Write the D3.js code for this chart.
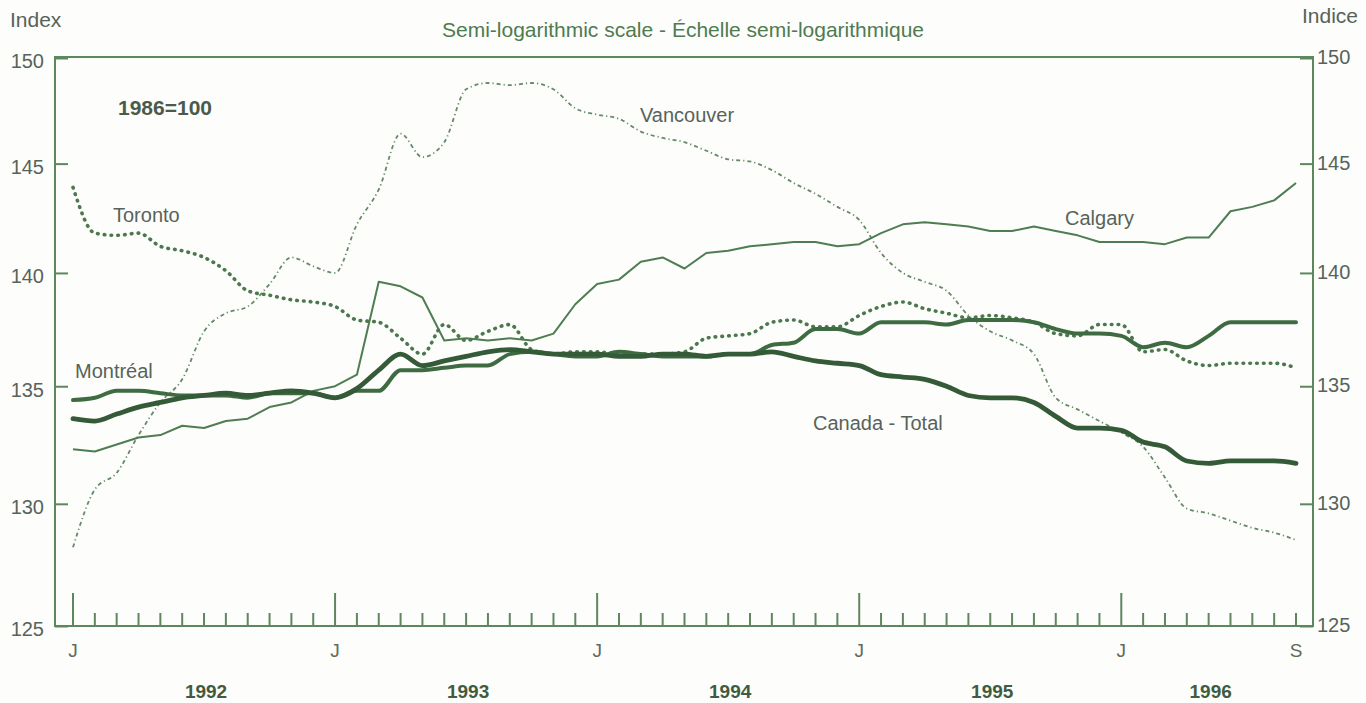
<!DOCTYPE html>
<html>
<head>
<meta charset="utf-8">
<script src="https://cdn.jsdelivr.net/npm/d3@7"></script>
<style>
  html, body { margin: 0; padding: 0; background: #fdfdfc; }
  svg { display: block; font-family: "Liberation Sans", Arial, Helvetica, sans-serif; }
</style>
</head>
<body>
<svg id="chart" width="1366" height="703"></svg>
<script>
// ---------------- DATA ----------------
// Monthly, January 1992 to September 1996 (57 months)
const monthLetters = ["J","F","M","A","M","J","J","A","S","O","N","D"];
const nMonths = 57;
const years = ["1992", "1993", "1994", "1995", "1996"];
const yTicks = [125, 130, 135, 140, 145, 150];

const canada = [133.6,133.5,133.8,134.1,134.3,134.5,134.6,134.7,134.6,134.7,134.8,134.7,
                134.5,134.9,135.7,136.4,135.9,136.1,136.3,136.5,136.6,136.5,136.4,136.4,
                136.4,136.3,136.3,136.4,136.4,136.3,136.4,136.4,136.5,136.3,136.1,136.0,
                135.9,135.5,135.4,135.3,135.0,134.6,134.5,134.5,134.3,133.7,133.2,133.2,
                133.1,132.6,132.4,131.8,131.7,131.8,131.8,131.8,131.7];
const montreal = [134.4,134.5,134.8,134.8,134.7,134.6,134.6,134.6,134.5,134.7,134.7,134.7,
                  134.5,134.8,134.8,135.7,135.7,135.8,135.9,135.9,136.4,136.5,136.4,136.3,
                  136.3,136.5,136.4,136.3,136.3,136.3,136.4,136.4,136.8,136.9,137.5,137.5,
                  137.3,137.8,137.8,137.8,137.7,137.9,137.9,137.9,137.8,137.5,137.3,137.3,
                  137.2,136.7,136.9,136.7,137.2,137.8,137.8,137.8,137.8];
const toronto = [143.9,141.8,141.7,141.8,141.2,141.0,140.7,140.1,139.2,139.0,138.8,138.7,
                 138.5,137.9,137.8,137.1,136.4,137.7,137.0,137.4,137.7,136.6,136.4,136.5,
                 136.5,136.4,136.4,136.4,136.5,137.1,137.2,137.3,137.8,137.9,137.6,137.6,
                 138.1,138.5,138.7,138.4,138.2,138.0,138.1,138.0,137.8,137.3,137.2,137.7,
                 137.7,136.5,136.6,136.1,135.9,136.0,136.0,136.0,135.8];
const vancouver = [128.2,130.6,131.3,132.9,134.3,135.3,137.4,138.2,138.5,139.5,140.7,140.3,
                   140.0,142.2,143.8,146.4,145.3,146.0,148.5,148.8,148.7,148.8,148.5,147.6,
                   147.3,147.1,146.5,146.2,146.0,145.6,145.2,145.1,144.7,144.1,143.6,143.0,
                   142.4,140.9,140.0,139.6,139.2,138.1,137.4,137.0,136.4,134.5,134.0,133.5,
                   133.0,132.4,131.1,129.8,129.6,129.3,129.0,128.8,128.5];
const calgary = [132.3,132.2,132.5,132.8,132.9,133.3,133.2,133.5,133.6,134.1,134.3,134.8,
                 135.0,135.5,139.6,139.4,138.9,137.0,137.1,137.0,137.1,137.0,137.3,138.6,
                 139.5,139.7,140.5,140.7,140.2,140.9,141.0,141.2,141.3,141.4,141.4,141.2,
                 141.3,141.8,142.2,142.3,142.2,142.1,141.9,141.9,142.1,141.9,141.7,141.4,
                 141.4,141.4,141.3,141.6,141.6,142.8,143.0,143.3,144.1];

// ---------------- LAYOUT ----------------
const svg = d3.select("#chart");
const frame = { left: 55, right: 1313, top: 57, bottom: 626 };
const x = d3.scaleLinear().domain([0, nMonths - 1]).range([73, 1296]);
const y = d3.scaleLog().domain([125, 150]).range([626, 58]);

const frameColor = "#5d875d";
const textGray = "#57635a";

svg.append("rect").attr("width", 1366).attr("height", 703).attr("fill", "#fdfdfc");

// frame
svg.append("rect")
  .attr("x", frame.left).attr("y", frame.top)
  .attr("width", frame.right - frame.left).attr("height", frame.bottom - frame.top)
  .attr("fill", "none").attr("stroke", frameColor).attr("stroke-width", 2);

// left axis
const leftAxis = d3.axisRight(y).tickValues(yTicks).tickSize(13).tickFormat("");
const gl = svg.append("g").attr("transform", `translate(${frame.left},0)`).call(leftAxis);
gl.select(".domain").remove();
gl.selectAll(".tick line").attr("stroke", frameColor).attr("stroke-width", 2);
svg.append("g").selectAll("text").data(yTicks).join("text")
  .attr("x", 44).attr("y", d => y(d)).attr("dy", "0.52em")
  .attr("text-anchor", "end").attr("font-size", 20).attr("fill", textGray)
  .text(d => d);

// right axis
const rightAxis = d3.axisLeft(y).tickValues(yTicks).tickSize(13).tickFormat("");
const gr = svg.append("g").attr("transform", `translate(${frame.right},0)`).call(rightAxis);
gr.select(".domain").remove();
gr.selectAll(".tick line").attr("stroke", frameColor).attr("stroke-width", 2);
svg.append("g").selectAll("text").data(yTicks).join("text")
  .attr("x", 1317).attr("y", d => y(d)).attr("dy", "0.3em")
  .attr("text-anchor", "start").attr("font-size", 20).attr("fill", textGray)
  .text(d => d);

// bottom axis: monthly ticks
const months = d3.range(nMonths);
const gx = svg.append("g");
gx.selectAll("line").data(months).join("line")
  .attr("x1", d => x(d)).attr("x2", d => x(d))
  .attr("y1", frame.bottom)
  .attr("y2", d => (d % 12 === 0) ? frame.bottom - 33 : frame.bottom - 13)
  .attr("stroke", frameColor).attr("stroke-width", 2);
gx.selectAll("text.m").data(months.filter(d => d % 12 === 0 || d === nMonths - 1)).join("text")
  .attr("class", "m")
  .attr("x", d => x(d)).attr("y", 657)
  .attr("text-anchor", "middle").attr("font-size", 19).attr("fill", "#5e6b5e")
  .text(d => monthLetters[d % 12]);
gx.selectAll("text.yr").data(years).join("text")
  .attr("class", "yr")
  .attr("x", (d, i) => {
    const s = i * 12, e = Math.min(i * 12 + 12, nMonths - 1);
    return (x(s) + x(e)) / 2 + 2;
  })
  .attr("y", 698)
  .attr("text-anchor", "middle").attr("font-size", 19).attr("font-weight", "bold")
  .attr("fill", "#3f5c40")
  .text(d => d);

// ---------------- SERIES ----------------
const lineSmooth = d3.line().x((d, i) => x(i)).y(d => y(d)).curve(d3.curveMonotoneX);
const lineStraight = d3.line().x((d, i) => x(i)).y(d => y(d));

const series = [
  { data: vancouver, gen: lineSmooth, color: "#668a68", width: 1.8, dash: "4,3,1.2,3", cap: "butt" },
  { data: calgary, gen: lineStraight, color: "#4f7d52", width: 2, dash: null, cap: "butt" },
  { data: toronto, gen: lineSmooth, color: "#4b784d", width: 3.6, dash: "0.6,6.2", cap: "round" },
  { data: montreal, gen: lineSmooth, color: "#3f6b42", width: 4, dash: null, cap: "round" },
  { data: canada, gen: lineSmooth, color: "#355a38", width: 4.8, dash: null, cap: "round" }
];
svg.append("g").selectAll("path").data(series).join("path")
  .attr("d", d => d.gen(d.data))
  .attr("fill", "none")
  .attr("stroke", d => d.color)
  .attr("stroke-width", d => d.width)
  .attr("stroke-dasharray", d => d.dash)
  .attr("stroke-linecap", d => d.cap)
  .attr("stroke-linejoin", "round");

// ---------------- TEXT ----------------
function label(txt, xx, yy, opts = {}) {
  svg.append("text").attr("x", xx).attr("y", yy)
    .attr("font-size", opts.size || 20)
    .attr("font-weight", opts.bold ? "bold" : "normal")
    .attr("fill", opts.color || textGray)
    .attr("text-anchor", opts.anchor || "start")
    .text(txt);
}
label("Index", 10, 27, { size: 21 });
label("Indice", 1302, 23, { size: 21 });
label("Semi-logarithmic scale - Échelle semi-logarithmique", 683, 37, { size: 21, anchor: "middle", color: "#4e7b50" });
label("1986=100", 118, 115, { size: 21, bold: true, color: "#4a5a4b" });
label("Toronto", 113, 222);
label("Vancouver", 640, 122);
label("Calgary", 1065, 225);
label("Montréal", 75, 378);
label("Canada - Total", 813, 430);
</script>
</body>
</html>
